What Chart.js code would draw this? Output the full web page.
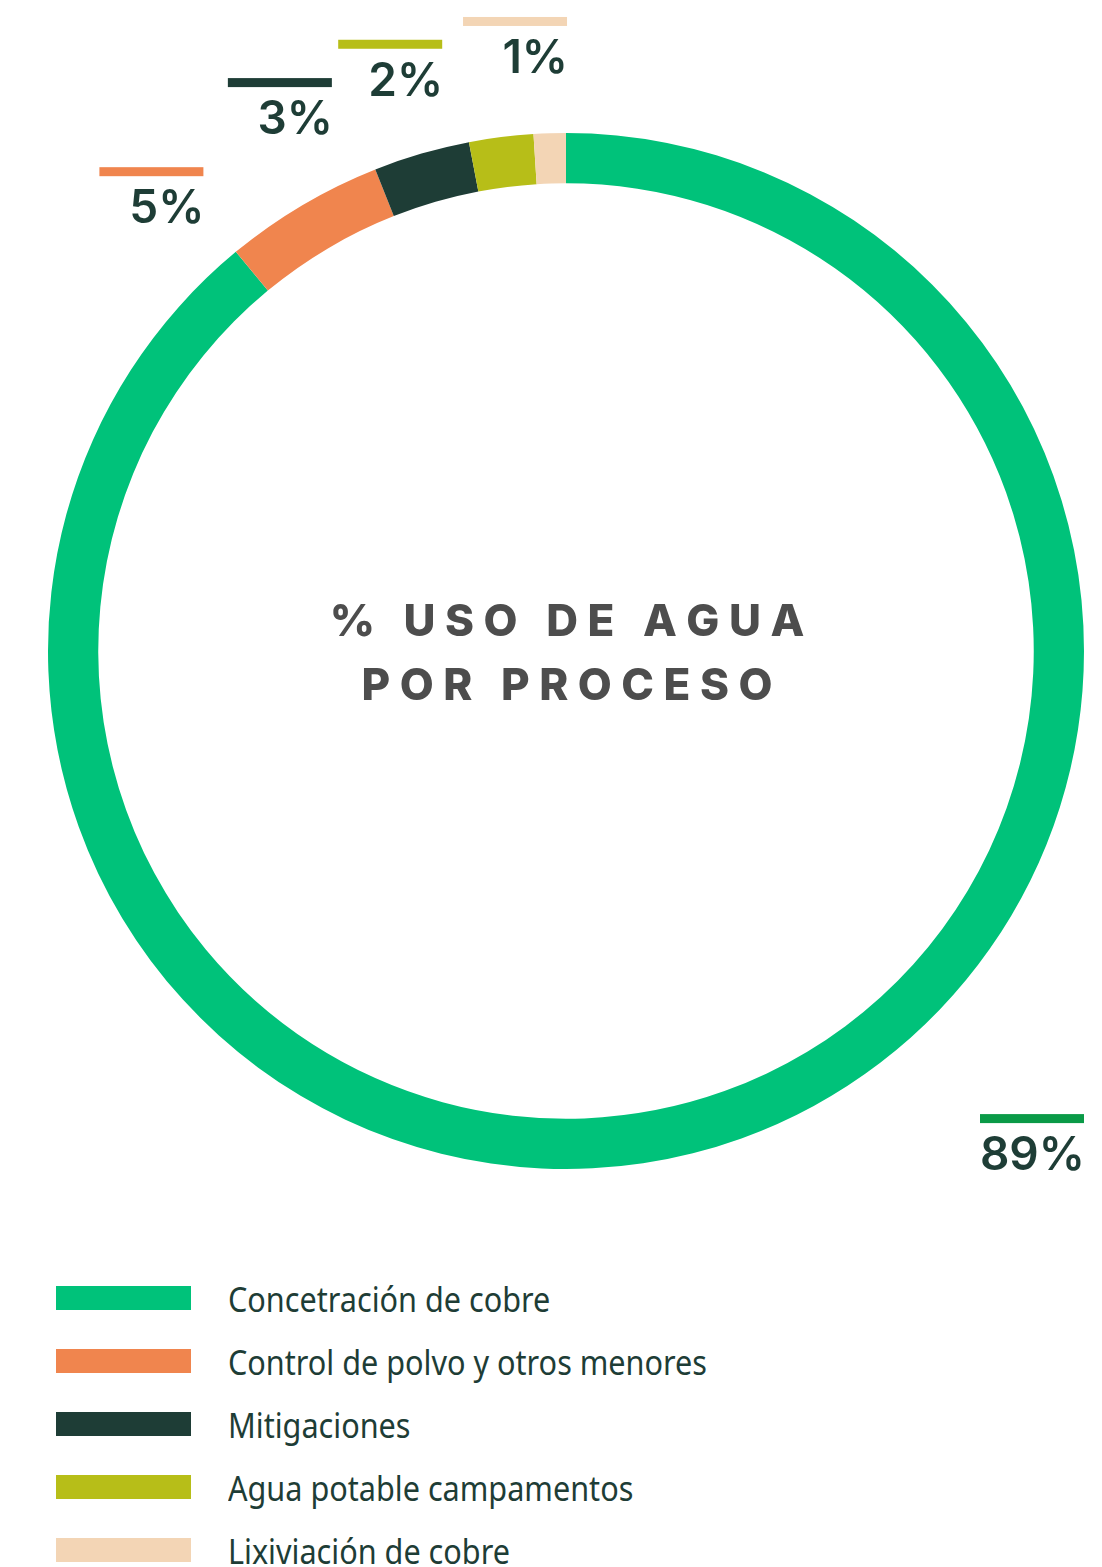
<!DOCTYPE html>
<html>
<head>
<meta charset="utf-8">
<script src="https://cdn.jsdelivr.net/npm/chart.js@4/dist/chart.umd.min.js"></script>
<style>
  html, body { margin: 0; padding: 0; background: #fff; }
  body { width: 1102px; height: 1567px; overflow: hidden; position: relative; }
  #wrap { position: absolute; left: 0; top: 0; width: 1102px; height: 1230px; }
  #legend { position: absolute; left: 56px; top: 1286px; margin: 0; padding: 0; list-style: none; }
  #legend li { display: flex; align-items: center; height: 24px; margin-bottom: 39px; }
  #legend .box { width: 135px; height: 24px; flex: none; }
  #legend .txt {
    margin-left: 37px; font-family: "Noto Sans", sans-serif;
    font-size: 34px; color: #1e3d36; white-space: nowrap; line-height: 24px; position: relative; top: 1px;
    display: inline-block; transform: scaleX(0.9); transform-origin: left center;
  }
</style>
</head>
<body>
<div id="wrap"><canvas id="chart"></canvas></div>
<ul id="legend"></ul>
<script>
const categories = ['Concetración de cobre', 'Control de polvo y otros menores', 'Mitigaciones', 'Agua potable campamentos', 'Lixiviación de cobre'];
const shares = [89, 5, 3, 2, 1];
const centerTitle = ['% USO DE AGUA', 'POR PROCESO'];

const sliceColors = ['#00c27a', '#f0854e', '#1e3d36', '#b7be18', '#f3d5b5'];
const markColors = ['#0a9a47', '#f0854e', '#1e3d36', '#b7be18', '#f3d5b5'];
// where each value tag sits, as fractions of the outer radius from the centre (right edge, top of bar)
const tagAnchors = [[1, 0.894], [-0.70, -0.934], [-0.452, -1.106], [-0.239, -1.18], [0.002, -1.224]];

const centerText = {
  id: 'centerText',
  afterDraw(chart) {
    const arc = chart.getDatasetMeta(0).data[0];
    if (!arc) return;
    const { ctx } = chart;
    const cx = arc.x, cy = arc.y;
    ctx.save();
    ctx.fillStyle = '#4d4d4d';
    ctx.font = '800 44px Inter, "Liberation Sans", sans-serif';
    ctx.textBaseline = 'alphabetic';
    const spacing = 9.5;
    centerTitle.forEach((line, i) => {
      const chars = Array.from(line);
      const widths = chars.map(c => ctx.measureText(c).width);
      const total = widths.reduce((a, b) => a + b, 0) + spacing * (chars.length - 1);
      let x = cx + 1 - total / 2;
      const y = cy - 15 + i * 64;
      chars.forEach((c, k) => {
        ctx.fillText(c, x, y);
        x += widths[k] + spacing;
      });
    });
    ctx.restore();
  }
};

const valueTags = {
  id: 'valueTags',
  afterDraw(chart) {
    const meta = chart.getDatasetMeta(0);
    const { ctx } = chart;
    ctx.save();
    meta.data.forEach((arc, i) => {
      const R = arc.outerRadius;
      const [fx, fy] = tagAnchors[i];
      const right = arc.x + fx * R;
      const top = arc.y + fy * R;
      ctx.fillStyle = markColors[i];
      ctx.fillRect(right - 104, top, 104, 9);
      ctx.fillStyle = '#1e3d36';
      ctx.font = '600 46px Inter, "Liberation Sans", sans-serif';
      ctx.textAlign = 'right';
      ctx.textBaseline = 'alphabetic';
      ctx.fillText(shares[i] + '%', right + 1, top + 56);
    });
    ctx.restore();
  }
};

const htmlLegend = {
  id: 'htmlLegend',
  afterUpdate(chart) {
    const list = document.getElementById('legend');
    list.innerHTML = '';
    chart.data.labels.forEach((label, i) => {
      const li = document.createElement('li');
      const box = document.createElement('span');
      box.className = 'box';
      box.style.background = chart.data.datasets[0].backgroundColor[i];
      const txt = document.createElement('span');
      txt.className = 'txt';
      txt.textContent = label;
      li.appendChild(box);
      li.appendChild(txt);
      list.appendChild(li);
    });
  }
};

new Chart(document.getElementById('chart'), {
  type: 'doughnut',
  data: {
    labels: categories,
    datasets: [{
      data: shares,
      backgroundColor: sliceColors,
      borderWidth: 0,
      hoverOffset: 0
    }]
  },
  options: {
    responsive: true,
    maintainAspectRatio: false,
    animation: false,
    cutout: '90.3%',
    rotation: 0,
    layout: { padding: { left: 48, right: 18, top: 133, bottom: 61 } },
    plugins: {
      legend: { display: false },
      tooltip: { enabled: false }
    }
  },
  plugins: [centerText, valueTags, htmlLegend]
});
</script>
</body>
</html>
